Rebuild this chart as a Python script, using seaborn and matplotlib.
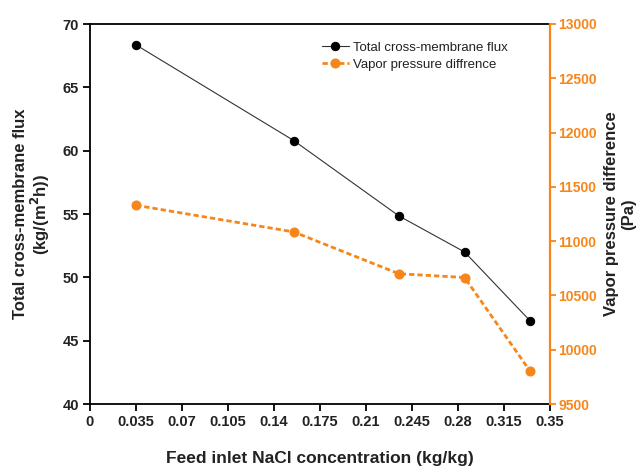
import matplotlib
matplotlib.use("Agg")
import matplotlib.pyplot as plt
import seaborn as sns
import pandas as pd

sns.set_theme(style="white")
plt.rcParams["font.family"] = ["Liberation Sans", "DejaVu Sans"]

# NaCl concentration at the feed inlet (kg/kg)
concentration = [0.035, 0.155, 0.235, 0.285, 0.335]
# Total cross-membrane flux, kg/(m^2 h)
flux = [68.35, 60.8, 54.85, 52.0, 46.55]
# Vapor pressure difference, Pa
vapor_dp = [11330, 11085, 10700, 10665, 9800]

x_ticks = [0, 0.035, 0.07, 0.105, 0.14, 0.175, 0.21, 0.245, 0.28, 0.315, 0.35]
x_tick_labels = ["0", "0.035", "0.07", "0.105", "0.14", "0.175", "0.21",
                 "0.245", "0.28", "0.315", "0.35"]
flux_ticks = [40, 45, 50, 55, 60, 65, 70]
vp_ticks = [9500, 10000, 10500, 11000, 11500, 12000, 12500, 13000]

orange = "#F7861A"
df = pd.DataFrame({"c": concentration, "flux": flux, "vp": vapor_dp})

fig = plt.figure(figsize=(6.38, 4.66), dpi=100)
ax = fig.add_axes([90 / 638, 1 - 404 / 466, 460 / 638, 380 / 466])
ax2 = ax.twinx()

sns.lineplot(data=df, x="c", y="flux", ax=ax, color="#333333", linewidth=0.8,
             marker="o", markersize=6, markeredgecolor="black",
             markerfacecolor="black", label="Total cross-membrane flux",
             legend=False)
sns.lineplot(data=df, x="c", y="vp", ax=ax2, color=orange, linewidth=2.0,
             linestyle=(0, (1.9, 1.1)), marker="o", markersize=6.5,
             markeredgecolor=orange, markerfacecolor=orange,
             label="Vapor pressure diffrence", legend=False)

ax.set_xlim(0, 0.35)
ax.set_ylim(40, 70)
ax2.set_ylim(9500, 13000)
ax.set_xticks(x_ticks)
ax.set_xticklabels(x_tick_labels)
ax.set_yticks(flux_ticks)
ax2.set_yticks(vp_ticks)

for s in ["left", "bottom", "top"]:
    ax.spines[s].set_color("black")
    ax.spines[s].set_linewidth(1.3)
ax.spines["right"].set_visible(False)
for s in ["left", "bottom", "top"]:
    ax2.spines[s].set_visible(False)
ax2.spines["right"].set_color(orange)
ax2.spines["right"].set_linewidth(1.6)

ax.tick_params(axis="both", which="major", direction="out", length=5,
               width=1.3, color="black", labelsize=10.5, pad=3, bottom=True,
               left=True)
ax2.tick_params(axis="y", direction="out", length=4, width=1.3, color=orange,
                labelcolor=orange, labelsize=10, pad=2, right=True)
for lbl in ax.get_xticklabels() + ax.get_yticklabels() + ax2.get_yticklabels():
    lbl.set_fontweight("bold")
for lbl in ax.get_xticklabels() + ax.get_yticklabels():
    lbl.set_color("#222222")

ax.set_xlabel("Feed inlet NaCl concentration (kg/kg)", fontsize=12.5,
              fontweight="bold", color="#222222", labelpad=16)
ax.set_ylabel("Total cross-membrane flux\n(kg/(m$^\\mathbf{2}$h))",
              fontsize=12, fontweight="bold", color="#222222",
              linespacing=1.05, va="center")
ax.yaxis.set_label_coords(-0.126, 0.5)
ax2.set_ylabel("Vapor pressure difference\n(Pa)", fontsize=12,
               fontweight="bold", color="#222222", rotation=90,
               linespacing=1.2, va="center")
ax2.yaxis.set_label_coords(1.152, 0.5)

h1, l1 = ax.get_legend_handles_labels()
h2, l2 = ax2.get_legend_handles_labels()
leg = ax2.legend(h1 + h2, l1 + l2, loc="upper left",
                 bbox_to_anchor=(0.492, 0.968), frameon=False, fontsize=9.5,
                 handlelength=2.1, handletextpad=0.3, labelspacing=0.35,
                 borderaxespad=0.2, borderpad=0.2, markerscale=1.0)
for t in leg.get_texts():
    t.set_color("#222222")

fig.savefig("out.png", dpi=100)
